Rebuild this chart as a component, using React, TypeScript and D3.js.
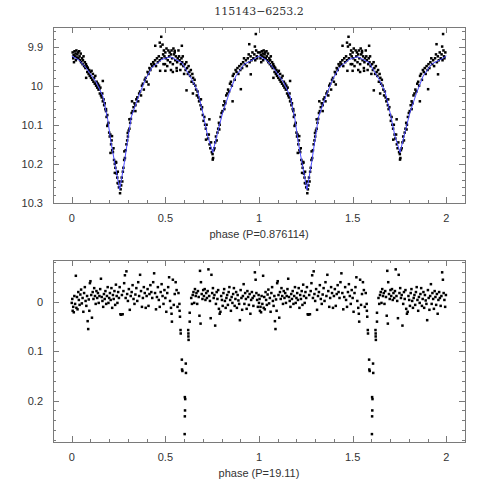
import React, { useEffect, useRef } from 'react';
import * as d3 from 'd3';

// one cycle of the folded light curve, drawn twice (phase and phase + 1)
const lcPoints: [number, number][] = [
  [0.005,9.915],[0.008,9.93],[0.01,9.922],[0.012,9.94],[0.015,9.912],[0.018,9.925],[0.02,9.918],[0.022,9.935],
  [0.025,9.91],[0.028,9.928],[0.03,9.92],[0.033,9.915],[0.036,9.93],[0.04,9.912],[0.042,9.925],[0.045,9.935],
  [0.048,9.918],[0.05,9.94],[0.055,9.93],[0.058,9.945],[0.06,9.935],[0.063,9.925],[0.066,9.95],[0.07,9.94],
  [0.073,9.955],[0.076,9.945],[0.08,9.95],[0.083,9.965],[0.086,9.955],[0.09,9.97],[0.093,9.96],[0.096,9.975],
  [0.1,9.965],[0.103,9.98],[0.106,9.962],[0.11,9.985],[0.113,9.97],[0.116,9.99],[0.12,9.98],[0.123,9.995],
  [0.126,9.975],[0.13,10.0],[0.133,9.99],[0.136,10.005],[0.14,9.995],[0.143,10.01],[0.146,10.0],[0.15,10.02],
  [0.153,10.005],[0.156,10.025],[0.16,10.03],[0.163,10.02],[0.166,10.04],[0.17,10.035],[0.173,10.05],[0.176,10.045],
  [0.18,10.06],[0.183,10.065],[0.186,10.08],[0.19,10.075],[0.193,10.1],[0.196,10.095],[0.2,10.12],[0.203,10.13],
  [0.206,10.125],[0.21,10.15],[0.213,10.14],[0.216,10.165],[0.22,10.17],[0.223,10.16],[0.226,10.19],[0.23,10.2],
  [0.233,10.21],[0.236,10.195],[0.24,10.225],[0.243,10.235],[0.246,10.22],[0.249,10.25],[0.252,10.26],[0.255,10.245],
  [0.258,10.275],[0.261,10.265],[0.264,10.255],[0.267,10.235],
  [0.27,10.245],[0.273,10.22],[0.276,10.21],[0.28,10.19],[0.284,10.185],[0.288,10.165],[0.292,10.15],[0.296,10.14],
  [0.3,10.13],[0.304,10.115],[0.308,10.11],[0.312,10.095],[0.316,10.085],[0.32,10.07],
  [0.325,10.065],[0.33,10.055],[0.335,10.045],[0.34,10.05],[0.345,10.035],[0.35,10.03],[0.355,10.04],[0.36,10.02],
  [0.365,10.015],[0.37,10.025],[0.375,10.0],[0.38,9.995],[0.385,10.01],[0.39,9.985],[0.395,9.98],[0.4,9.99],
  [0.405,9.965],[0.41,9.97],[0.415,9.955],[0.42,9.96],[0.425,9.945],[0.43,9.95],[0.435,9.94],[0.44,9.945],
  [0.445,9.935],[0.45,9.95],[0.455,9.93],[0.46,9.94],[0.465,9.925],[0.47,9.935],[0.475,9.9],[0.478,9.875],
  [0.48,9.93],[0.485,9.895],[0.488,9.92],[0.49,9.945],[0.492,9.91],[0.495,9.925],[0.498,9.945],
  [0.5,9.915],[0.503,9.93],[0.506,9.905],[0.51,9.95],[0.513,9.935],[0.516,9.91],[0.52,9.925],[0.523,9.915],
  [0.526,9.94],[0.53,9.92],[0.533,9.91],[0.536,9.93],[0.54,9.945],[0.543,9.905],[0.546,9.92],[0.55,9.915],
  [0.553,9.935],[0.556,9.925],[0.56,9.955],[0.563,9.94],[0.566,9.93],[0.57,9.91],[0.573,9.925],[0.576,9.935],
  [0.58,9.96],[0.583,9.945],[0.586,9.93],[0.59,9.94],[0.593,9.925],[0.596,9.95],[0.6,9.97],
  [0.54,9.965],[0.53,9.96],[0.613,10.012],[0.647,10.02],
  [0.604,9.945],[0.608,9.96],[0.612,9.94],[0.616,9.955],[0.62,9.97],[0.624,9.95],[0.628,9.965],[0.632,9.975],
  [0.636,9.96],[0.64,9.99],[0.644,9.97],[0.648,9.98],[0.652,9.995],[0.656,9.985],[0.66,10.0],[0.664,10.01],
  [0.668,10.025],[0.672,10.015],[0.676,10.03],[0.68,10.04],[0.684,10.035],[0.688,10.05],[0.692,10.06],
  [0.696,10.055],[0.7,10.075],
  [0.704,10.09],[0.708,10.08],[0.712,10.1],[0.716,10.11],[0.72,10.1],[0.724,10.125],[0.728,10.135],[0.732,10.125],
  [0.736,10.15],[0.74,10.16],[0.744,10.145],[0.748,10.17],[0.752,10.175],[0.755,10.185],[0.758,10.165],[0.762,10.16],
  [0.766,10.145],[0.77,10.13],[0.774,10.14],[0.778,10.12],[0.782,10.11],[0.786,10.095],[0.79,10.1],[0.795,10.08],
  [0.8,10.07],
  [0.805,10.065],[0.81,10.05],[0.815,10.04],[0.82,10.045],[0.825,10.025],[0.83,10.02],[0.835,10.01],[0.84,10.015],
  [0.845,9.995],[0.85,9.99],[0.855,10.0],[0.86,9.975],[0.865,9.97],[0.87,9.985],[0.875,9.96],[0.88,9.965],
  [0.885,9.955],[0.89,9.97],[0.895,9.95],[0.9,9.96],
  [0.905,9.945],[0.91,9.955],[0.915,9.94],[0.92,9.93],[0.925,9.945],[0.93,9.935],[0.935,9.95],[0.94,9.93],
  [0.945,9.92],[0.95,9.94],[0.955,9.925],[0.96,9.935],[0.965,9.915],[0.97,9.93],[0.975,9.92],[0.978,9.9],
  [0.98,9.935],[0.985,9.91],[0.988,9.925],[0.99,9.93],[0.995,9.915],
  // scattered points off the fit
  [0.077,9.98],[0.085,9.954],[0.148,10.009],[0.166,9.988],[0.183,10.06],[0.19,10.103],[0.207,10.172],[0.215,10.129],
  [0.23,10.223],[0.237,10.197],[0.245,10.249],[0.281,10.168],[0.299,10.121],[0.308,10.086],[0.322,10.04],
  [0.34,10.065],[0.41,9.997],[0.446,9.898],[0.47,9.89],[0.472,9.962],[0.5,9.962],[0.55,9.911],[0.561,9.962],
  [0.588,9.898],[0.69,10.035],[0.717,10.138],[0.735,10.086],[0.753,10.189],[0.788,10.112],[0.815,10.06],
  [0.859,10.04],[0.903,10.009],[0.948,9.894],[0.956,9.971],[0.983,9.868],
];

// fitted model, one cycle
const modelCurve: [number, number][] = [
  [0,9.924],[0.04,9.935],[0.077,9.955],[0.13,9.99],[0.166,10.027],[0.192,10.086],[0.21,10.146],[0.233,10.206],
  [0.256,10.266],[0.281,10.197],[0.299,10.138],[0.318,10.08],[0.357,10.027],[0.393,9.984],[0.428,9.954],
  [0.481,9.933],[0.526,9.926],[0.588,9.941],[0.641,9.984],[0.673,10.015],[0.7,10.069],[0.726,10.129],
  [0.753,10.171],[0.779,10.12],[0.806,10.069],[0.841,10.019],[0.877,9.975],[0.921,9.945],[0.974,9.932],[1.0,9.924],
];

// residuals folded on the second period, one cycle
const resPoints: [number, number][] = [
  [0.0,0.002],[0.003,-0.006],[0.005,0.018],[0.008,0.01],[0.011,0.021],[0.014,-0.012],[0.018,0.004],[0.022,-0.053],
  [0.025,0.012],[0.028,-0.01],[0.031,0.015],[0.035,-0.02],[0.038,-0.004],[0.042,0.006],[0.046,-0.015],[0.05,-0.025],
  [0.054,0.003],[0.058,-0.008],[0.062,0.02],[0.066,-0.018],[0.07,-0.03],[0.074,-0.002],[0.078,0.008],[0.082,-0.012],
  [0.085,0.039],[0.088,0.055],[0.091,-0.005],[0.094,0.018],[0.097,-0.038],[0.1,-0.042],[0.104,-0.014],[0.108,0.032],
  [0.112,-0.02],[0.116,-0.006],[0.12,-0.028],[0.124,-0.012],[0.128,0.004],[0.132,-0.022],[0.136,-0.008],[0.14,-0.018],
  [0.144,0.002],[0.148,-0.012],[0.152,-0.026],[0.156,-0.047],[0.16,-0.01],[0.164,-0.002],[0.168,0.01],[0.172,-0.016],
  [0.176,-0.006],[0.18,-0.022],[0.184,0.004],[0.188,-0.012],[0.192,-0.03],[0.196,0.002],[0.2,-0.008],[0.204,-0.018],
  [0.208,-0.004],[0.212,-0.028],[0.216,0.012],[0.22,-0.014],[0.224,-0.006],[0.228,-0.022],[0.232,0.006],[0.236,-0.035],
  [0.24,-0.012],[0.244,0.002],[0.248,-0.02],[0.252,-0.008],[0.256,-0.03],[0.26,0.025],[0.264,0.026],[0.268,-0.014],
  [0.272,0.025],[0.276,-0.022],[0.28,-0.038],[0.284,-0.054],[0.288,-0.008],[0.292,-0.062],[0.296,-0.016],[0.3,-0.002],
  [0.305,-0.026],[0.31,0.016],[0.315,-0.012],[0.32,-0.02],[0.325,-0.034],[0.33,-0.006],[0.335,0.004],[0.34,-0.015],
  [0.345,-0.028],[0.35,-0.002],[0.355,-0.04],[0.36,-0.012],[0.365,-0.055],[0.37,-0.022],[0.375,0.01],[0.38,-0.008],
  [0.385,-0.03],[0.39,-0.018],[0.395,0.012],[0.4,-0.012],[0.405,-0.026],[0.41,0.008],[0.415,-0.016],[0.42,-0.034],
  [0.425,-0.02],[0.43,-0.008],[0.435,-0.04],[0.44,-0.058],[0.445,-0.018],[0.45,0.015],[0.455,-0.01],[0.46,-0.03],
  [0.465,-0.004],[0.47,0.01],[0.475,-0.02],[0.48,-0.036],[0.485,-0.012],[0.49,0.004],[0.495,-0.024],[0.5,-0.008],
  [0.505,0.02],[0.51,-0.018],[0.515,-0.03],[0.52,-0.05],[0.525,-0.002],[0.53,0.012],[0.533,0.024],[0.535,0.04],
  [0.54,-0.045],[0.545,0.006],[0.55,-0.016],[0.555,-0.04],[0.56,-0.024],[0.565,0.01],[0.57,-0.018],[0.575,0.004],
  // eclipse
  [0.576,0.018],[0.578,0.03],[0.581,0.057],[0.582,0.064],[0.588,0.117],[0.589,0.137],[0.591,0.14],[0.603,0.268],
  [0.604,0.193],[0.606,0.197],[0.605,0.22],[0.604,0.232],[0.609,0.125],[0.61,0.144],[0.622,0.057],[0.623,0.064],
  [0.623,0.07],[0.624,0.077],[0.63,0.04],[0.63,0.022],
  [0.638,-0.008],[0.642,0.004],[0.646,-0.014],[0.65,-0.02],[0.654,0.002],[0.658,-0.026],[0.662,-0.012],[0.666,-0.018],
  [0.67,0.004],[0.674,-0.022],[0.678,-0.01],[0.682,0.028],[0.685,-0.063],[0.688,0.044],[0.69,-0.04],[0.694,-0.016],
  [0.698,-0.006],[0.702,-0.024],[0.706,-0.012],[0.71,-0.026],[0.714,-0.004],[0.718,-0.018],[0.722,-0.008],[0.726,-0.022],
  [0.73,-0.066],[0.734,-0.012],[0.738,-0.002],[0.742,0.033],[0.746,-0.055],[0.75,-0.018],[0.754,-0.028],[0.758,-0.008],
  [0.762,-0.014],[0.766,0.048],[0.77,0.004],[0.774,-0.02],[0.778,-0.006],[0.782,-0.024],[0.786,0.014],[0.79,0.024],
  [0.794,0.02],[0.798,-0.012],[0.802,-0.004],[0.806,0.008],[0.81,-0.018],[0.814,-0.026],[0.818,-0.002],[0.822,0.012],
  [0.826,-0.008],[0.83,-0.014],[0.834,0.006],[0.838,-0.02],[0.842,-0.03],[0.846,-0.004],[0.85,0.018],[0.854,-0.01],
  [0.858,0.002],[0.862,-0.016],[0.866,-0.028],[0.87,0.008],[0.874,-0.006],[0.878,-0.02],[0.882,0.012],[0.886,-0.014],
  [0.89,-0.003],[0.894,0.004],[0.898,0.037],[0.902,-0.024],[0.906,-0.008],[0.91,0.016],[0.914,-0.012],[0.918,-0.036],
  [0.922,0.004],[0.926,-0.018],[0.93,-0.006],[0.934,0.014],[0.938,-0.022],[0.942,-0.01],[0.946,0.006],[0.95,-0.016],
  [0.954,0.024],[0.958,-0.004],[0.962,-0.02],[0.966,-0.008],[0.97,0.008],[0.974,-0.012],[0.978,-0.06],[0.982,-0.045],
  [0.986,-0.018],[0.99,-0.004],[0.994,0.01],[0.998,-0.014],
];

const title = '115143\u22126253.2';
const topXLabel = 'phase (P=0.876114)';
const botXLabel = 'phase (P=19.11)';
const xTicks = [0, 0.5, 1, 1.5, 2];
const topYTicks = [9.9, 10, 10.1, 10.2, 10.3];
const botYTicks = [0, 0.1, 0.2];

const W = 491;
const H = 491;

const App = () => {
  const svgRef = useRef<SVGSVGElement>(null);

  useEffect(() => {
    const svg = d3.select(svgRef.current);
    svg.selectAll('*').remove();

    const left = 53, right = 465;
    const frameColor = '#7a7a7a';
    const textColor = '#333';
    const font = '"Liberation Sans", Arial, sans-serif';

    // fold helper: repeat one cycle at +1
    const twice = (arr: [number, number][]) => arr.concat(arr.map(d => [d[0] + 1, d[1]] as [number, number]));

    const drawPanel = (
      top: number, bottom: number, yDomain: [number, number], yMajor: number[],
      yFmt: (v: number) => string, xLabel: string
    ) => {
      const x = d3.scaleLinear().domain([-0.1, 2.1]).range([left, right]);
      const y = d3.scaleLinear().domain(yDomain).range([top, bottom]);
      const g = svg.append('g');

      // minor ticks every 0.1 in phase, 0.02 in magnitude
      const xMinor = d3.range(-1, 22).map(i => i / 10);
      const yMinor = d3.range(Math.ceil(yDomain[0] / 0.02 - 1e-6), Math.floor(yDomain[1] / 0.02 + 1e-6) + 1).map(i => +(i * 0.02).toFixed(3));
      const isMajX = (v: number) => Math.abs(v * 2 - Math.round(v * 2)) < 1e-6;
      const isMajY = (v: number) => Math.abs(v * 10 - Math.round(v * 10)) < 1e-6;

      xMinor.forEach(v => {
        const len = isMajX(v) ? 6 : 3;
        const px = Math.round(x(v)) + 0.5;
        g.append('line').attr('x1', px).attr('x2', px).attr('y1', bottom).attr('y2', bottom - len).attr('stroke', frameColor);
        g.append('line').attr('x1', px).attr('x2', px).attr('y1', top).attr('y2', top + len).attr('stroke', frameColor);
      });
      yMinor.forEach(v => {
        const len = isMajY(v) ? 6 : 3;
        const py = Math.round(y(v)) + 0.5;
        g.append('line').attr('x1', left).attr('x2', left + len).attr('y1', py).attr('y2', py).attr('stroke', frameColor);
        g.append('line').attr('x1', right).attr('x2', right - len).attr('y1', py).attr('y2', py).attr('stroke', frameColor);
      });

      g.append('rect')
        .attr('x', left + 0.5).attr('y', top + 0.5)
        .attr('width', right - left).attr('height', bottom - top)
        .attr('fill', 'none').attr('stroke', frameColor);

      g.selectAll('.xt').data(xTicks).enter().append('text')
        .attr('x', d => x(d)).attr('y', bottom + 19)
        .attr('text-anchor', 'middle').attr('font-family', font).attr('font-size', 11)
        .attr('fill', textColor).text(d => String(d));

      g.selectAll('.yt').data(yMajor).enter().append('text')
        .attr('x', left - 10).attr('y', d => y(d) + 4)
        .attr('text-anchor', 'end').attr('font-family', font).attr('font-size', 11)
        .attr('fill', textColor).text(d => yFmt(d));

      g.append('text')
        .attr('x', (left + right) / 2).attr('y', bottom + 35)
        .attr('text-anchor', 'middle').attr('font-family', font).attr('font-size', 11)
        .attr('fill', textColor).text(xLabel);

      return { x, y, g };
    };

    // top panel
    const p1 = drawPanel(27, 203, [9.85, 10.3], topYTicks, d => String(d), topXLabel);
    const line = d3.line<[number, number]>().x(d => p1.x(d[0])).y(d => p1.y(d[1]));
    const model = modelCurve.concat(modelCurve.slice(1).map(d => [d[0] + 1, d[1]] as [number, number]));
    p1.g.selectAll('.pt').data(twice(lcPoints)).enter().append('rect')
      .attr('x', d => p1.x(d[0]) - 1.25).attr('y', d => p1.y(d[1]) - 1.25)
      .attr('width', 2.5).attr('height', 2.5).attr('fill', '#000');
    p1.g.append('path').datum(model).attr('d', line)
      .attr('fill', 'none').attr('stroke', '#4a4aff').attr('stroke-width', 1);

    // bottom panel
    const p2 = drawPanel(260, 442, [-0.085, 0.284], botYTicks, d => String(d), botXLabel);
    p2.g.selectAll('.pt').data(twice(resPoints)).enter().append('rect')
      .attr('x', d => p2.x(d[0]) - 1.25).attr('y', d => p2.y(d[1]) - 1.25)
      .attr('width', 2.5).attr('height', 2.5).attr('fill', '#000');

    svg.append('text')
      .attr('x', 259).attr('y', 15)
      .attr('text-anchor', 'middle').attr('font-family', '"DejaVu Serif", serif').attr('font-size', 11)
      .attr('fill', textColor).text(title);
  }, []);

  return (
    <svg ref={svgRef} width={W} height={H}
      style={{ position: 'absolute', left: 0, top: 0, background: '#fff' }} />
  );
};

export default App;
